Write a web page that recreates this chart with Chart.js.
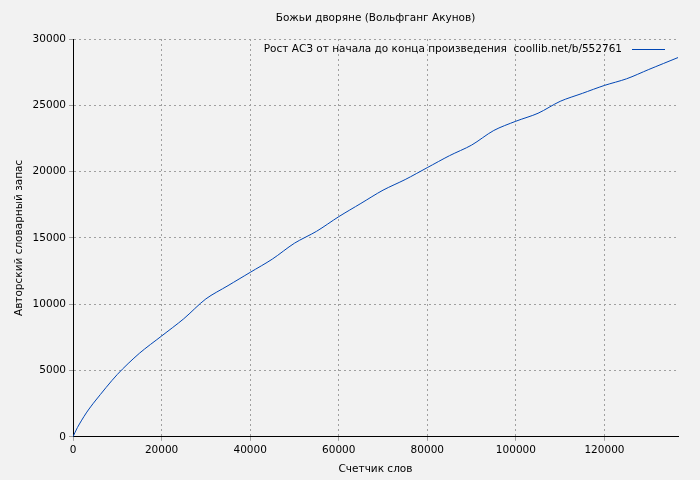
<!DOCTYPE html>
<html>
<head>
<meta charset="utf-8">
<script src="https://cdn.jsdelivr.net/npm/chart.js@4"></script>
<style>
  body { margin: 0; background: #f2f2f2; }
  #wrap { width: 700px; height: 480px; }
</style>
</head>
<body>
<div id="wrap"><canvas id="c"></canvas></div>
<script>
// word counter (x) and author vocabulary (y)
const words = [0, 1000, 3000, 5000, 10000, 15000, 20000, 25000, 30000, 35000, 40000, 45000, 50000, 55000, 60000, 65000, 70000, 75000, 80000, 85000, 90000, 95000, 100000, 105000, 110000, 115000, 120000, 125000, 130000, 136600];
const vocab = [0, 700, 1800, 2700, 4700, 6300, 7600, 8900, 10400, 11400, 12400, 13400, 14600, 15500, 16600, 17600, 18600, 19400, 20300, 21200, 22000, 23100, 23800, 24400, 25300, 25900, 26500, 27000, 27700, 28600];
const xTicks = [0, 20000, 40000, 60000, 80000, 100000, 120000];
const yTicks = [0, 5000, 10000, 15000, 20000, 25000, 30000];

const chartTitle = 'Божьи дворяне (Вольфганг Акунов)';
const seriesLabel = 'Рост АСЗ от начала до конца произведения  coollib.net/b/552761';
const font = "'DejaVu Sans', sans-serif";

// title centred over the plot area plus the legend inside it
const overlay = {
  id: 'overlay',
  afterDraw(chart) {
    const { ctx, chartArea } = chart;
    ctx.save();
    ctx.fillStyle = '#000';
    ctx.textBaseline = 'middle';
    ctx.font = '10.5px ' + font;
    ctx.textAlign = 'center';
    ctx.fillText(chartTitle, (chartArea.left + chartArea.right) / 2, 18);
    ctx.textAlign = 'right';
    const y = chartArea.top + 10;
    ctx.fillText(seriesLabel, chartArea.right - 56, y);
    ctx.strokeStyle = '#0046b4';
    ctx.lineWidth = 1;
    ctx.beginPath();
    ctx.moveTo(chartArea.right - 46, y + 0.5);
    ctx.lineTo(chartArea.right - 13, y + 0.5);
    ctx.stroke();
    ctx.restore();
  }
};

new Chart(document.getElementById('c'), {
  type: 'scatter',
  data: {
    datasets: [{
      label: seriesLabel,
      data: words.map((w, i) => ({ x: w, y: vocab[i] })),
      showLine: true,
      borderColor: '#0046b4',
      borderWidth: 1,
      pointRadius: 0,
      tension: 0.3
    }]
  },
  options: {
    responsive: true,
    maintainAspectRatio: false,
    animation: false,
    layout: { padding: { top: 39, right: 22, left: 9, bottom: 0 } },
    plugins: {
      legend: { display: false },
      tooltip: { enabled: false },
      title: { display: false }
    },
    scales: {
      x: {
        type: 'linear',
        min: 0,
        max: 136600,
        afterBuildTicks: (s) => { s.ticks = xTicks.map(v => ({ value: v })); },
        ticks: { color: '#000', font: { family: font, size: 10.5 }, maxRotation: 0, callback: v => v },
        grid: { color: '#a0a0a0', tickLength: 4 },
        border: { color: '#000', dash: [2, 3] },
        title: { display: true, text: 'Счетчик слов', color: '#000', font: { family: font, size: 10.5 } }
      },
      y: {
        min: 0,
        max: 30000,
        afterBuildTicks: (s) => { s.ticks = yTicks.map(v => ({ value: v })); },
        ticks: { color: '#000', font: { family: font, size: 10.5 }, callback: v => v },
        grid: { color: '#a0a0a0', tickLength: 4 },
        border: { color: '#000', dash: [2, 3] },
        title: { display: true, text: 'Авторский словарный запас', color: '#000', font: { family: font, size: 10.5 } }
      }
    }
  },
  plugins: [overlay]
});
</script>
</body>
</html>
